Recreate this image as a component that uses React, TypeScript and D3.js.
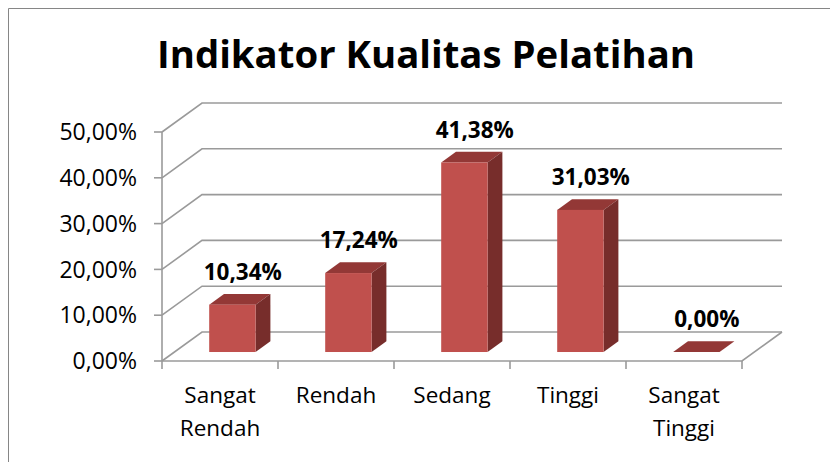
import React from "react";
import * as d3 from "d3";

const categories = ["Sangat Rendah", "Rendah", "Sedang", "Tinggi", "Sangat Tinggi"];
const categoryLines = [["Sangat", "Rendah"], ["Rendah"], ["Sedang"], ["Tinggi"], ["Sangat", "Tinggi"]];
const values = [0.1034, 0.1724, 0.4138, 0.3103, 0];
const yTicks = [0, 0.1, 0.2, 0.3, 0.4, 0.5];
const title = "Indikator Kualitas Pelatihan";

const W = 830;
const H = 462;
const FONT = "'Open Sans', 'DejaVu Sans', sans-serif";

// 3d depth of the plot box (x, y shift of the back wall)
const DX = 40;
const DY = -29;
const F0 = 0.31; // bar front, fraction of depth
const F1 = 0.68; // bar back

const idLocale = d3.formatLocale({ decimal: ",", thousands: ".", grouping: [3], currency: ["", ""] });
const pct = idLocale.format(".2%");

export default function App() {
  const x = d3.scaleBand<string>().domain(categories).range([162, 742]);
  const y = d3.scaleLinear().domain([0, 0.5]).range([361, 132]);
  const bw = x.bandwidth();
  const barW = bw * 0.4;
  const ddx = DX * (F1 - F0);
  const ddy = DY * (F1 - F0);
  const [x0, x1] = x.range();
  const grid = "#9a9a9a";

  return (
    <svg width={W} height={H} style={{ position: "absolute", left: 0, top: 0, background: "#fff" }}>
      {/* frame */}
      <path d={`M8.5,${H}V8.5H${W}`} fill="none" stroke="#868686" strokeWidth={1} />

      <text x={426} y={68} textAnchor="middle" fontFamily={FONT} fontWeight="bold" fontSize={37}
        textLength={538} lengthAdjust="spacingAndGlyphs" fill="#000">{title}</text>

      {/* side wall + back wall gridlines */}
      {yTicks.map(t => (
        <path key={"g" + t}
          d={`M${x0},${y(t)}L${x0 + DX},${y(t) + DY}H${x1 + DX}`}
          fill="none" stroke={grid} strokeWidth={1.6} />
      ))}
      {/* floor */}
      <path d={`M${x0},${y(0)}H${x1}L${x1 + DX},${y(0) + DY}`} fill="none" stroke={grid} strokeWidth={1.6} />
      {/* value axis */}
      <line x1={x0} x2={x0} y1={y(0.5)} y2={y(0)} stroke={grid} strokeWidth={1.6} />
      {yTicks.map(t => (
        <line key={"t" + t} x1={x0 - 8} x2={x0} y1={y(t)} y2={y(t)} stroke={grid} strokeWidth={1.6} />
      ))}
      {categories.concat([""]).map((c, i) => {
        const xx = x0 + i * bw;
        return <line key={"xt" + i} x1={xx} x2={xx} y1={y(0)} y2={y(0) + 8} stroke={grid} strokeWidth={1.6} />;
      })}

      {/* bars */}
      {categories.map((c, i) => {
        const v = values[i];
        const xl = (x(c) as number) + bw * 0.3 + DX * F0;
        const xr = xl + barW;
        const yb = y(0) + DY * F0;
        const yt = y(v) + DY * F0;
        return (
          <g key={c}>
            <polygon points={`${xl},${yt} ${xr},${yt} ${xr + ddx},${yt + ddy} ${xl + ddx},${yt + ddy}`}
              fill="#933836" />
            <polygon points={`${xr},${yt} ${xr + ddx},${yt + ddy} ${xr + ddx},${yb + ddy} ${xr},${yb}`}
              fill="#772d2b" />
            {yb - yt > 0.5 && <rect x={xl} y={yt} width={barW} height={yb - yt} fill="#c0504d" />}
            <text x={(xl + xr) / 2 + ddx / 2 + 3} y={yt + ddy - 14} textAnchor="middle" fontFamily={FONT}
              fontWeight="bold" fontSize={22.5} fill="#000">{pct(v)}</text>
          </g>
        );
      })}

      {/* tick labels */}
      {yTicks.map(t => (
        <text key={"l" + t} x={137} y={y(t)} dy="0.36em" textAnchor="end" fontFamily={FONT}
          fontSize={23} fill="#000">{pct(t)}</text>
      ))}
      {categories.map((c, i) => (
        <text key={"c" + c} textAnchor="middle" fontFamily={FONT} fontSize={22.5} fill="#000">
          {categoryLines[i].map((s, j) => (
            <tspan key={j} x={(x(c) as number) + bw / 2} y={403 + j * 33}>{s}</tspan>
          ))}
        </text>
      ))}
    </svg>
  );
}
